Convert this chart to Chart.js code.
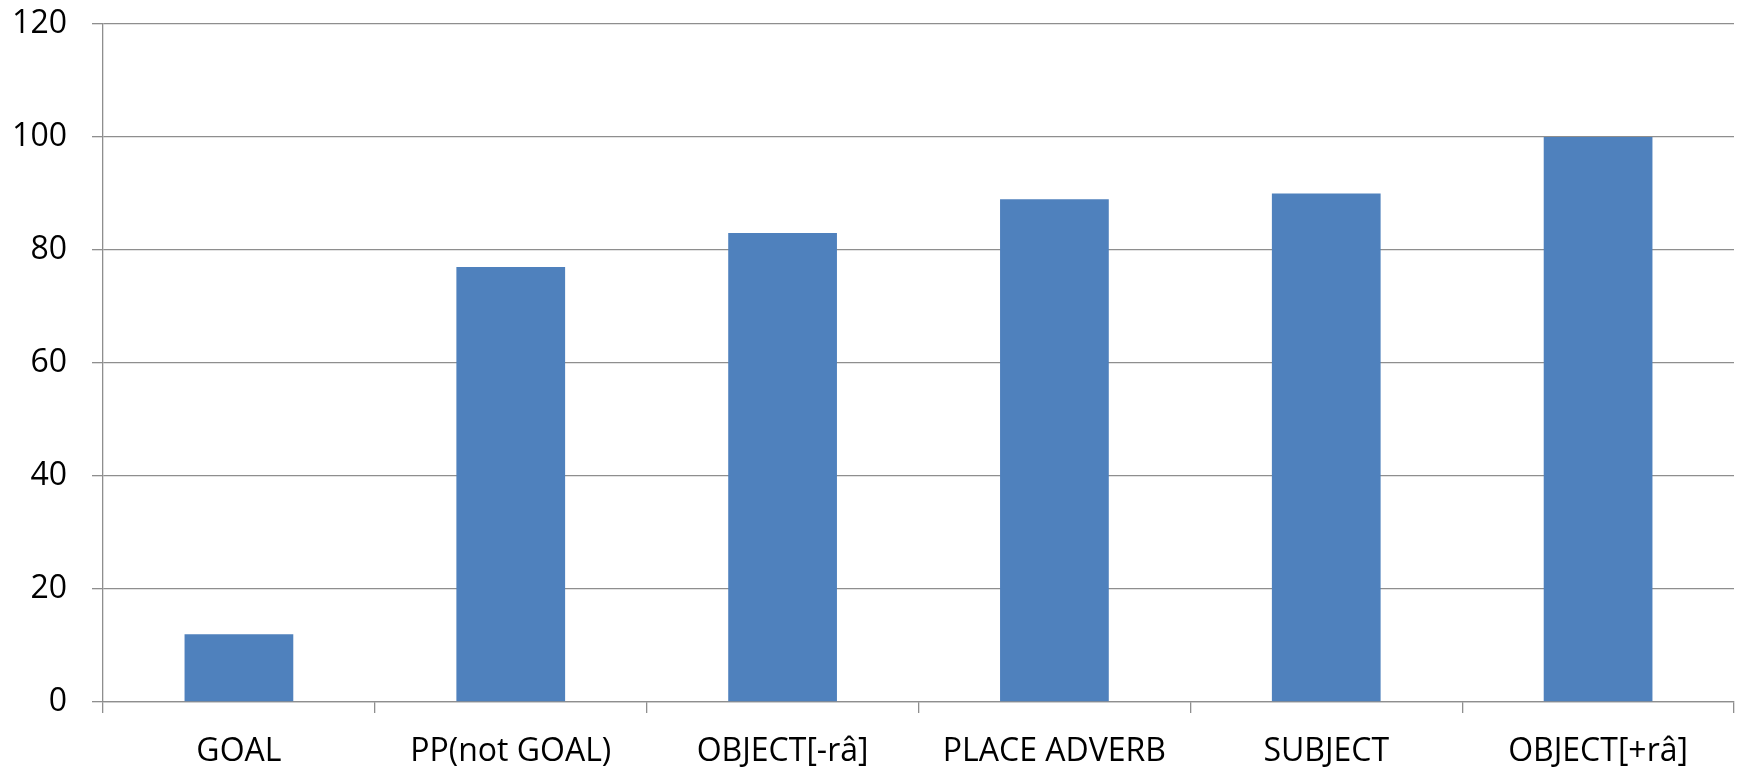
<!DOCTYPE html>
<html>
<head>
<meta charset="utf-8">
<script src="https://cdn.jsdelivr.net/npm/chart.js@4"></script>
<style>
    html, body { margin: 0; padding: 0; background: #fff; }
    #wrap { width: 1744px; height: 771px; }
</style>
</head>
<body>
<div id="wrap"><canvas id="barChart"></canvas></div>
<script>
const categories = ['GOAL', 'PP(not GOAL)', 'OBJECT[-râ]', 'PLACE ADVERB', 'SUBJECT', 'OBJECT[+râ]'];
const values = [12, 77, 83, 89, 90, 100];
const yTicks = [0, 20, 40, 60, 80, 100, 120];

const gridColor = '#8e8e8e';
const fontSpec = { family: '"Open Sans", sans-serif', size: 32 };

const ctx = document.getElementById('barChart').getContext('2d');
new Chart(ctx, {
    type: 'bar',
    data: {
        labels: categories,
        datasets: [{
            data: values,
            backgroundColor: '#4f81bd',
            borderWidth: 0,
            categoryPercentage: 1,
            barPercentage: 0.4
        }]
    },
    options: {
        responsive: true,
        maintainAspectRatio: false,
        animation: false,
        layout: { padding: { top: 24, right: 10, left: 0, bottom: 0 } },
        plugins: {
            legend: { display: false },
            tooltip: { enabled: false }
        },
        scales: {
            x: {
                offset: true,
                grid: {
                    offset: true,
                    drawOnChartArea: false,
                    drawTicks: true,
                    tickLength: 11,
                    color: gridColor,
                    lineWidth: 1.3
                },
                border: { color: gridColor, width: 1.3 },
                ticks: {
                    color: '#000',
                    font: fontSpec,
                    padding: 20,
                    maxRotation: 0,
                    autoSkip: false
                },
                afterFit: (scale) => {
                    scale.height = 69;
                    scale.paddingLeft = 0;
                    scale.paddingRight = 0;
                }
            },
            y: {
                min: 0,
                max: 120,
                afterBuildTicks: (scale) => {
                    scale.ticks = yTicks.map(v => ({ value: v }));
                },
                grid: {
                    color: gridColor,
                    lineWidth: 1.3,
                    tickLength: 11
                },
                border: { color: gridColor, width: 1.3 },
                ticks: {
                    color: '#000',
                    font: fontSpec,
                    padding: 25
                },
                afterFit: (scale) => {
                    scale.width = 103;
                    scale.paddingTop = 0;
                    scale.paddingBottom = 0;
                }
            }
        }
    }
});
</script>
</body>
</html>
